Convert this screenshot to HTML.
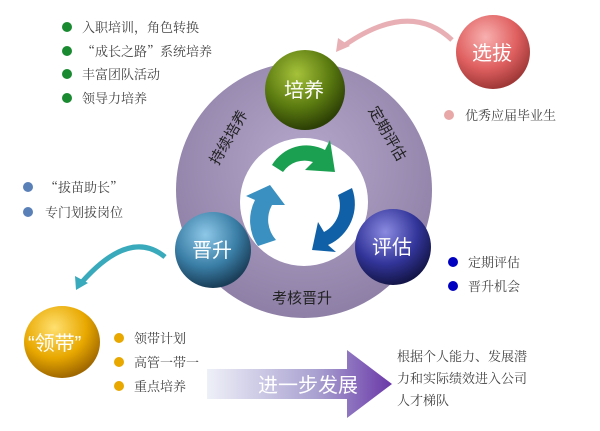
<!DOCTYPE html>
<html><head><meta charset="utf-8"><style>
html,body{margin:0;padding:0;background:#fff;}
svg{display:block;}
text{font-family:"Liberation Sans","Noto Sans CJK SC",sans-serif;}
.s{font-family:"Noto Serif CJK SC","Liberation Serif",serif;font-size:13px;fill:#444;}
.b{font-size:20px;fill:#fff;}
</style></head><body>
<svg width="600" height="431" viewBox="0 0 600 431" xmlns="http://www.w3.org/2000/svg">
<defs>
<radialGradient id="ring" cx="50%" cy="40%" r="60%"><stop offset="0" stop-color="#b6a8cc"/><stop offset="1" stop-color="#8e7fa6"/></radialGradient>
<radialGradient id="gG" cx="40%" cy="30%" r="70%"><stop offset="0" stop-color="#a6c23a"/><stop offset=".6" stop-color="#5a7a10"/><stop offset="1" stop-color="#2c3f05"/></radialGradient>
<radialGradient id="gB" cx="40%" cy="30%" r="70%"><stop offset="0" stop-color="#8ec8e8"/><stop offset=".6" stop-color="#3a7ea6"/><stop offset="1" stop-color="#1a3e58"/></radialGradient>
<radialGradient id="gN" cx="40%" cy="30%" r="70%"><stop offset="0" stop-color="#8a8ae0"/><stop offset=".6" stop-color="#33359a"/><stop offset="1" stop-color="#14164a"/></radialGradient>
<radialGradient id="gR" cx="40%" cy="30%" r="70%"><stop offset="0" stop-color="#f8b0b0"/><stop offset=".6" stop-color="#e06060"/><stop offset="1" stop-color="#a03838"/></radialGradient>
<radialGradient id="gY" cx="40%" cy="30%" r="70%"><stop offset="0" stop-color="#ffe070"/><stop offset=".6" stop-color="#e8a800"/><stop offset="1" stop-color="#a06800"/></radialGradient>
<linearGradient id="arr" x1="0" x2="1"><stop offset="0" stop-color="#eef0f8"/><stop offset=".6" stop-color="#a8a0d0"/><stop offset="1" stop-color="#6a38a8"/></linearGradient>
</defs>
<circle cx="304" cy="190" r="128" fill="url(#ring)"/>
<circle cx="304" cy="202" r="64" fill="#fff"/>
<!-- cycle arrows -->
<path d="M272 165 A40 40 0 0 1 325 150 L330 140 L335 172 L305 170 L313 162 A26 26 0 0 0 283 172 Z" fill="#1aa050"/>
<path d="M352 188 A45 45 0 0 1 328 245 L336 252 L312 250 L318 222 L324 232 A30 30 0 0 0 338 195 Z" fill="#1060a8"/>
<path d="M258 246 A45 45 0 0 1 255 200 L246 196 L270 185 L285 205 L272 205 A30 30 0 0 0 276 240 Z" fill="#3a90c0"/>
<text x="0" y="0" font-size="15" fill="#222" transform="translate(218,166) rotate(-60)">持续培养</text>
<text x="0" y="0" font-size="15" fill="#222" transform="translate(368,110) rotate(60)">定期评估</text>
<text x="272" y="303" font-size="15" fill="#222">考核晋升</text>
<!-- connectors -->
<path d="M452 40 Q410 0 345 45" stroke="#e8b0b4" stroke-width="5" fill="none"/>
<path d="M336 52 L338 38 L350 46 Z" fill="#e8b0b4"/>
<path d="M165 257 Q130 228 82 282" stroke="#38aabb" stroke-width="5" fill="none"/>
<path d="M76 290 L75 276 L88 283 Z" fill="#38aabb"/>
<!-- balls -->
<circle cx="305" cy="90" r="40" fill="url(#gG)"/><text class="b" x="284" y="97">培养</text>
<circle cx="213" cy="250" r="38" fill="url(#gB)"/><text class="b" x="192" y="257">晋升</text>
<circle cx="393" cy="247" r="38" fill="url(#gN)"/><text class="b" x="372" y="254">评估</text>
<circle cx="493" cy="52" r="37" fill="url(#gR)"/><text class="b" x="472" y="60">选拔</text>
<ellipse cx="62" cy="342" rx="38" ry="36" fill="url(#gY)"/><text class="b" x="28" y="350">“领带”</text>
<!-- bullets -->
<g fill="#1a8a30"><circle cx="67" cy="27" r="5"/><circle cx="67" cy="51" r="5"/><circle cx="67" cy="74" r="5"/><circle cx="67" cy="98" r="5"/></g>
<text class="s" x="82" y="32">入职培训，角色转换</text>
<text class="s" x="82" y="56">“成长之路”系统培养</text>
<text class="s" x="82" y="79">丰富团队活动</text>
<text class="s" x="82" y="103">领导力培养</text>
<circle cx="449" cy="115" r="5" fill="#e8a8a8"/><text class="s" x="465" y="120">优秀应届毕业生</text>
<g fill="#5a80b8"><circle cx="28" cy="187" r="5"/><circle cx="28" cy="212" r="5"/></g>
<text class="s" x="45" y="192">“拔苗助长”</text>
<text class="s" x="45" y="217">专门划拔岗位</text>
<g fill="#0000c0"><circle cx="453" cy="262" r="5"/><circle cx="453" cy="286" r="5"/></g>
<text class="s" x="468" y="267">定期评估</text>
<text class="s" x="468" y="291">晋升机会</text>
<g fill="#e8a800"><circle cx="119" cy="338" r="5"/><circle cx="119" cy="362" r="5"/><circle cx="119" cy="386" r="5"/></g>
<text class="s" x="134" y="343">领带计划</text>
<text class="s" x="134" y="367">高管一带一</text>
<text class="s" x="134" y="391">重点培养</text>
<!-- big arrow -->
<path d="M207 369 L347 369 L347 350 L392 384 L347 418 L347 399 L207 399 Z" fill="url(#arr)"/>
<text x="258" y="392" font-size="20" fill="#fff">进一步发展</text>
<text class="s" x="397" y="361">根据个人能力、发展潜</text>
<text class="s" x="397" y="383">力和实际绩效进入公司</text>
<text class="s" x="397" y="405">人才梯队</text>
</svg>
</body></html>
